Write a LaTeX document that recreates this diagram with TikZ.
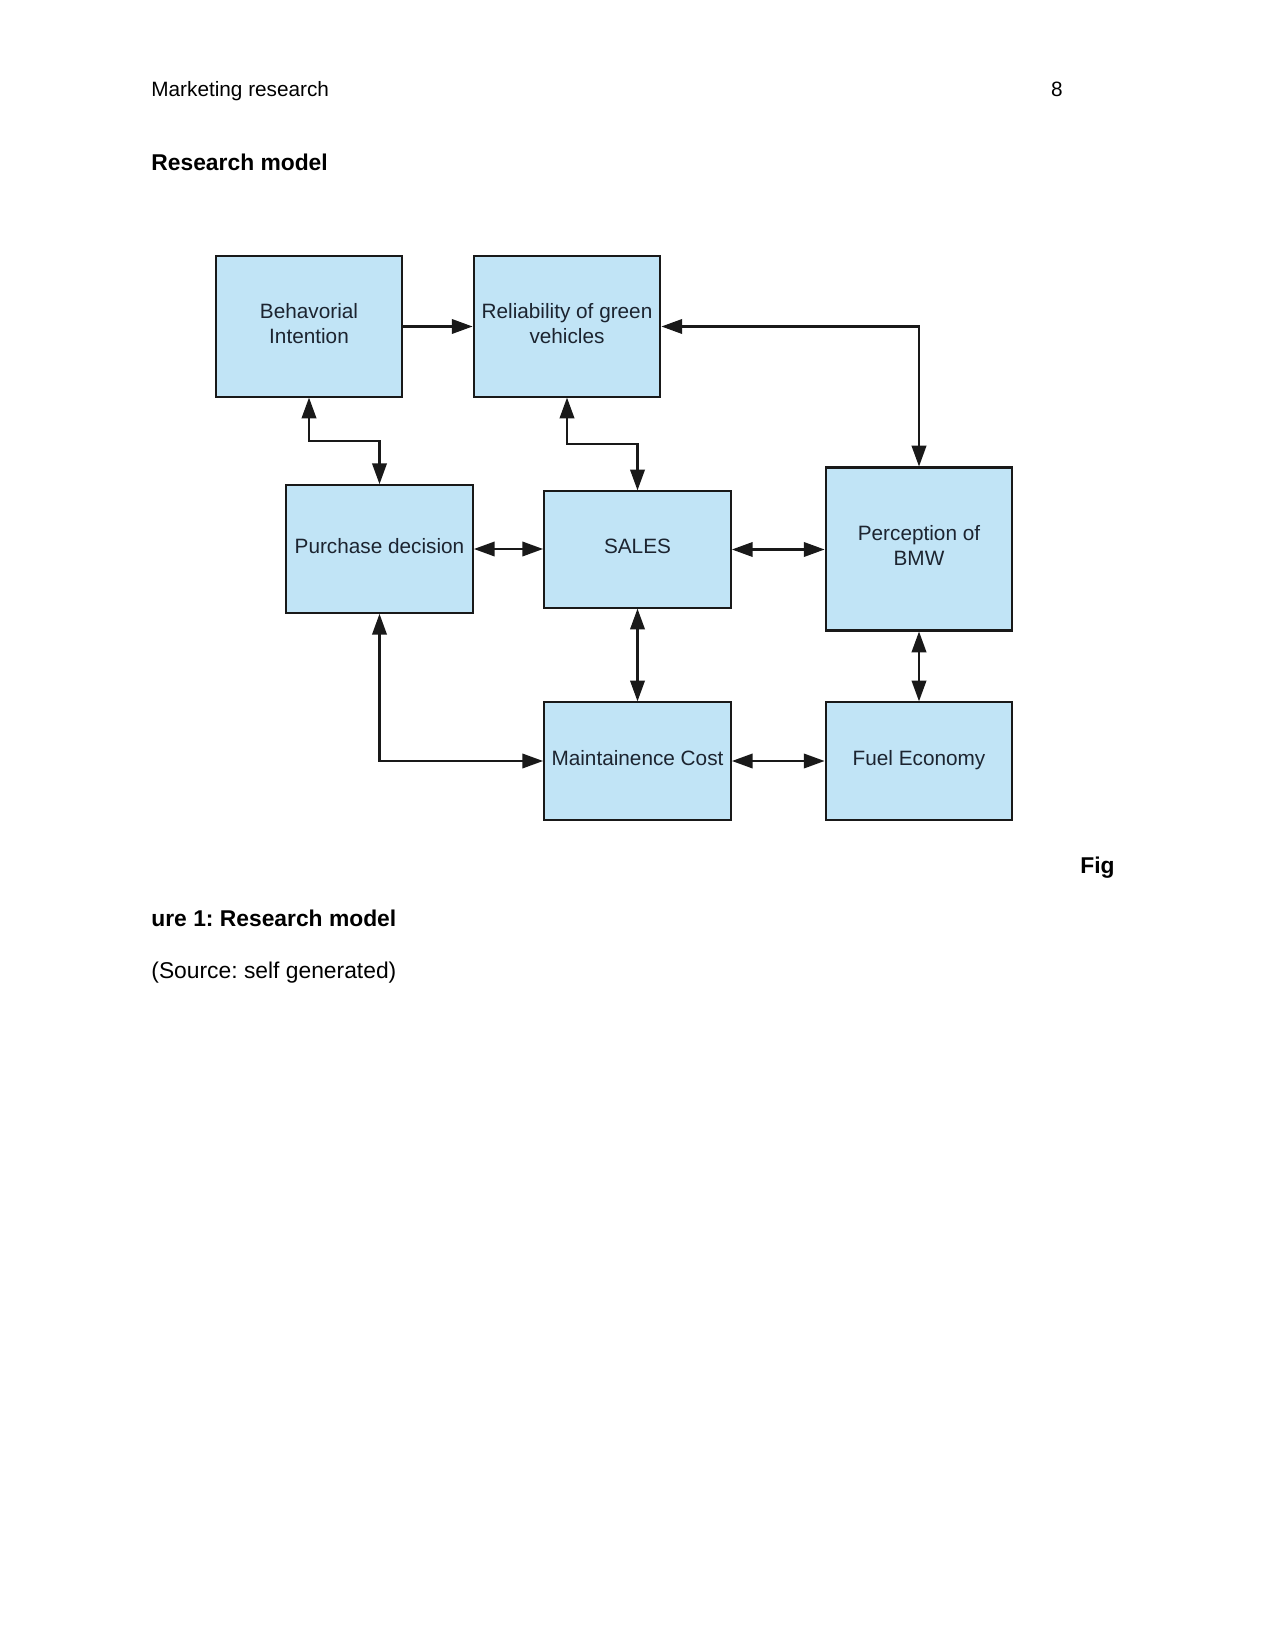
\documentclass[tikz,border=0pt]{standalone}
\usepackage{fontspec}
\setmainfont{Liberation Sans}
\frenchspacing
\usetikzlibrary{arrows.meta,calc,positioning}
\definecolor{boxblue}{RGB}{193,228,246}
\definecolor{boxline}{RGB}{25,25,25}
\definecolor{boxtext}{RGB}{28,36,48}
\tikzset {
  >={Triangle[length=10pt,width=7pt]},
  every node/.style={font=\fontsize{10}{12}\selectfont},
  block/.style={draw=boxline,line width=1pt,fill=boxblue,text=boxtext,
    align=center,minimum width=90pt,inner sep=2pt,
    execute at end node={\rule[-3pt]{0pt}{0pt}}},
  link/.style={<->,line width=1pt,draw=boxline},
  pagetext/.style={anchor=base west,inner sep=0pt},
  bodybold/.style={font=\fontsize{11}{13}\selectfont\bfseries},
}

\begin{document}
\begin{tikzpicture}[x=0.4818pt,y=-0.4818pt]
  \useasboundingbox[fill=white] (0,0) rectangle (1275,1650);
  % page text
  \node[pagetext] (header) at (151,97) {Marketing research};
  \node[pagetext,anchor=base east] (pagenum) at (1063,97) {8};
  \node[pagetext,bodybold] (title) at (151,171) {Research model};
  \node[pagetext,bodybold] (figa) at (1080,873) {Fig};
  \node[pagetext,bodybold] (figb) at (151,926) {ure 1: Research model};
  \node[pagetext,font=\fontsize{11}{13}\selectfont] (source) at (151,978) {(Source: self generated)};
  % boxes
  \node[block,minimum height=67.5pt] (behav) at (309,326.5) {Behavorial\\Intention};
  \node[block,minimum height=67.5pt] (rel) at (567,326.5) {Reliability of green\\vehicles};
  \node[block,minimum height=61.5pt] (purchase) at (379.5,549) {Purchase decision};
  \node[block,minimum height=56pt] (sales) at (637.5,549.5) {SALES};
  \node[block,minimum height=78.5pt] (perc) at (919,549) {Perception of\\BMW};
  \node[block,minimum height=56.5pt] (maint) at (637.5,761) {Maintainence Cost};
  \node[block,minimum height=56.5pt] (fuel) at (919,761) {Fuel Economy};
  % links
  \draw[->,line width=1pt,draw=boxline] (behav) -- (rel);
  \draw[link] (rel.east) -| (perc.north);
  \draw[link] (behav.south) |- ($(behav.south)!.5!(purchase.north)$) -| (purchase.north);
  \draw[link] (rel.south) |- ($(rel.south)!.5!(sales.north)$) -| (sales.north);
  \draw[link] (purchase.east) -- (purchase.east -| sales.west);
  \draw[link] (sales.east) -- (sales.east -| perc.west);
  \draw[link] (sales) -- (maint);
  \draw[link] (perc) -- (fuel);
  \draw[link] (maint) -- (fuel);
  \draw[link] (purchase.south) |- (maint.west);
\end{tikzpicture}
\end{document}
